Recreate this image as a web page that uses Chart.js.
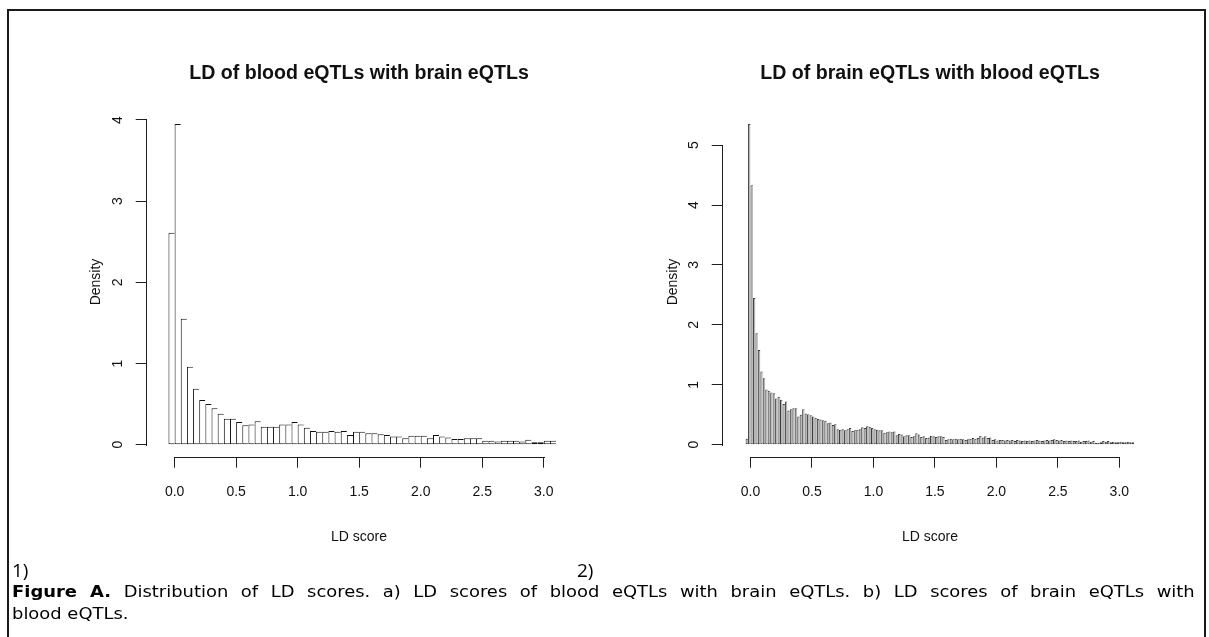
<!DOCTYPE html>
<html>
<head>
<meta charset="utf-8">
<script src="https://cdn.jsdelivr.net/npm/chart.js@4"></script>
<style>
html,body{margin:0;padding:0;background:#fff;width:1209px;height:637px;overflow:hidden;position:relative;}
#frame{position:absolute;left:7px;top:9px;width:1199px;height:700px;border:2px solid #1a1a1a;box-sizing:border-box;}
canvas{position:absolute;top:0;}
#c1{left:0;}
#c2{left:600px;}
.txt{position:absolute;font-family:"DejaVu Sans","Noto Sans",sans-serif;color:#000;transform-origin:0 0;}
.num{font-family:"Open Sans","Noto Sans",sans-serif;font-size:19px;line-height:22px;white-space:nowrap;}
.cap{font-size:16px;line-height:22px;transform:scaleX(1.12);}
#cap1{width:1056px;text-align:justify;text-align-last:justify;}
</style>
</head>
<body>
<div id="frame"></div>
<canvas id="c1" width="600" height="560"></canvas>
<canvas id="c2" width="609" height="560"></canvas>
<div class="txt num" style="left:12px;top:559px;">1)</div>
<div class="txt num" style="left:577px;top:559px;">2)</div>
<div class="txt cap" id="cap1" style="left:12px;top:581px;"><b>Figure A.</b> Distribution of LD scores. a) LD scores of blood eQTLs with brain eQTLs. b) LD scores of brain eQTLs with</div>
<div class="txt cap" id="cap2" style="left:12px;top:603px;white-space:nowrap;">blood eQTLs.</div>
<script>
// ---- data ----
const leftTitle = 'LD of blood eQTLs with brain eQTLs';
const rightTitle = 'LD of brain eQTLs with blood eQTLs';
const xTitle = 'LD score';
const yTitle = 'Density';

const leftBinStart = -0.05;
const leftBinWidth = 0.05;
const leftDensity = [
  2.61, 3.95, 1.55, 0.96, 0.69, 0.55, 0.50, 0.45, 0.38, 0.32,
  0.32, 0.28, 0.24, 0.25, 0.29, 0.22, 0.22, 0.22, 0.25, 0.25,
  0.28, 0.25, 0.21, 0.17, 0.16, 0.16, 0.17, 0.16, 0.17, 0.12,
  0.16, 0.16, 0.14, 0.14, 0.13, 0.12, 0.10, 0.10, 0.08, 0.11,
  0.11, 0.11, 0.08, 0.12, 0.10, 0.09, 0.07, 0.07, 0.08, 0.08,
  0.08, 0.05, 0.05, 0.04, 0.05, 0.05, 0.05, 0.04, 0.06, 0.03,
  0.03, 0.05, 0.05
];

const rightBinStart = -0.04;
const rightBinWidth = 0.02;
const rightDensity = [
  0.10, 5.35, 4.33, 2.45, 1.86, 1.58, 1.22, 1.11, 0.92, 0.90,
  0.87, 0.86, 0.77, 0.80, 0.75, 0.68, 0.72, 0.57, 0.59, 0.61,
  0.61, 0.47, 0.50, 0.59, 0.52, 0.51, 0.49, 0.47, 0.45, 0.43,
  0.42, 0.41, 0.40, 0.36, 0.37, 0.33, 0.34, 0.26, 0.25, 0.26,
  0.24, 0.26, 0.28, 0.23, 0.24, 0.25, 0.26, 0.29, 0.28, 0.31,
  0.30, 0.28, 0.26, 0.25, 0.24, 0.24, 0.20, 0.21, 0.22, 0.21,
  0.22, 0.16, 0.18, 0.17, 0.14, 0.16, 0.16, 0.13, 0.14, 0.19,
  0.17, 0.13, 0.14, 0.11, 0.12, 0.15, 0.14, 0.13, 0.14, 0.14,
  0.13, 0.08, 0.09, 0.10, 0.09, 0.10, 0.09, 0.10, 0.09, 0.08,
  0.09, 0.10, 0.11, 0.10, 0.11, 0.15, 0.12, 0.14, 0.11, 0.12,
  0.08, 0.09, 0.07, 0.08, 0.08, 0.07, 0.08, 0.07, 0.08, 0.06,
  0.08, 0.07, 0.06, 0.07, 0.06, 0.07, 0.06, 0.07, 0.08, 0.07,
  0.06, 0.07, 0.08, 0.07, 0.08, 0.09, 0.08, 0.07, 0.08, 0.06,
  0.07, 0.06, 0.07, 0.06, 0.06, 0.07, 0.05, 0.06, 0.06, 0.07,
  0.05, 0.06, 0.03, 0.03, 0.04, 0.06, 0.05, 0.06, 0.04, 0.05,
  0.04, 0.04, 0.05, 0.04, 0.04, 0.05, 0.04, 0.04
];

const xTickValues = [0, 0.5, 1, 1.5, 2, 2.5, 3];
const xTickLabels = ['0.0', '0.5', '1.0', '1.5', '2.0', '2.5', '3.0'];
const leftYTicks = [0, 1, 2, 3, 4];
const rightYTicks = [0, 1, 2, 3, 4, 5];

// ---- rendering ----
const FONT = '"Liberation Sans", Arial, sans-serif';
const INK = '#111';
const AXIS = '#1e1e1e';

function binsToPoints(start, width, values) {
  return values.map((v, i) => ({ x: start + width * (i + 0.5), y: v }));
}

const rAxesPlugin = {
  id: 'rAxes',
  afterDraw(chart) {
    const ctx = chart.ctx;
    const area = chart.chartArea;
    const x = chart.scales.x, y = chart.scales.y;
    const xt = x.ticks, yt = y.ticks;
    ctx.save();
    ctx.strokeStyle = AXIS;
    ctx.lineWidth = 1;
    ctx.beginPath();
    const by = Math.round(area.bottom) + 0.5;
    ctx.moveTo(Math.round(x.getPixelForValue(xt[0].value)), by);
    ctx.lineTo(Math.round(x.getPixelForValue(xt[xt.length - 1].value)) + 1, by);
    ctx.stroke();
    ctx.beginPath();
    const lx = Math.round(area.left) - 0.5;
    ctx.moveTo(lx, Math.round(y.getPixelForValue(yt[0].value)) + 1);
    ctx.lineTo(lx, Math.round(y.getPixelForValue(yt[yt.length - 1].value)));
    ctx.stroke();
    ctx.restore();
  }
};

function makePanel(canvasId, cfg) {
  const axisFont = { family: FONT, size: 14 };
  return new Chart(document.getElementById(canvasId), {
    type: 'bar',
    data: {
      datasets: [{
        data: binsToPoints(cfg.binStart, cfg.binWidth, cfg.values),
        backgroundColor: cfg.fill,
        borderColor: cfg.stroke,
        borderWidth: { left: 1, top: 1, right: 0, bottom: 1 },
        borderSkipped: false,
        barPercentage: 1,
        categoryPercentage: 1,
        inflateAmount: 0,
        clip: false
      }]
    },
    options: {
      responsive: false,
      animation: false,
      devicePixelRatio: 1,
      layout: { padding: { left: 0, right: cfg.padRight, top: 0, bottom: 0 } },
      plugins: {
        legend: { display: false },
        tooltip: { enabled: false },
        title: {
          display: true,
          text: cfg.title,
          fullSize: false,
          color: INK,
          font: { family: FONT, size: 19.6, weight: 'bold' },
          padding: { top: 62.2, bottom: 21.6 }
        }
      },
      scales: {
        x: {
          type: 'linear',
          min: cfg.xMin,
          max: cfg.xMax,
          offset: false,
          afterBuildTicks: s => { s.ticks = xTickValues.map(v => ({ value: v })); },
          afterFit: s => { s.height = 103.3; },
          grid: { offset: false, drawOnChartArea: false, drawTicks: true, tickLength: 11, color: AXIS, lineWidth: 1 },
          border: { display: false },
          ticks: {
            autoSkip: false, minRotation: 0, maxRotation: 0, padding: 16,
            color: INK, font: axisFont,
            callback: v => xTickLabels[xTickValues.indexOf(v)]
          },
          title: { display: true, text: xTitle, color: INK, font: axisFont, padding: { top: 0, bottom: 14 } }
        },
        y: {
          type: 'linear',
          min: cfg.yMin,
          max: cfg.yMax,
          afterBuildTicks: s => { s.ticks = cfg.yTicks.map(v => ({ value: v })); },
          afterFit: s => { s.width = cfg.yAxisWidth; },
          grid: { offset: false, drawOnChartArea: false, drawTicks: true, tickLength: 11, color: AXIS, lineWidth: 1 },
          border: { display: false },
          ticks: {
            minRotation: 90, maxRotation: 90, crossAlign: 'center', padding: 13.8,
            color: INK, font: axisFont,
            callback: v => String(v)
          },
          title: { display: true, text: yTitle, color: INK, font: axisFont, padding: { top: cfg.yTitlePad, bottom: 0 } }
        }
      }
    },
    plugins: [rAxesPlugin]
  });
}

makePanel('c1', {
  title: leftTitle,
  binStart: leftBinStart, binWidth: leftBinWidth, values: leftDensity,
  fill: '#ffffff', stroke: '#111',
  xMin: -0.2268, xMax: 3.224,
  yMin: -0.1478, yMax: 4.156,
  yTicks: leftYTicks,
  yAxisWidth: 146.7, padRight: 28.7, yTitlePad: 87.6
});

makePanel('c2', {
  title: rightTitle,
  binStart: rightBinStart, binWidth: rightBinWidth, values: rightDensity,
  fill: '#b6b6b6', stroke: '#3c3c3c',
  xMin: -0.2261, xMax: 3.146,
  yMin: -0.2, yMax: 5.63,
  yTicks: rightYTicks,
  yAxisWidth: 122.7, padRight: 71.7, yTitlePad: 64.6
});
</script>
</body>
</html>
